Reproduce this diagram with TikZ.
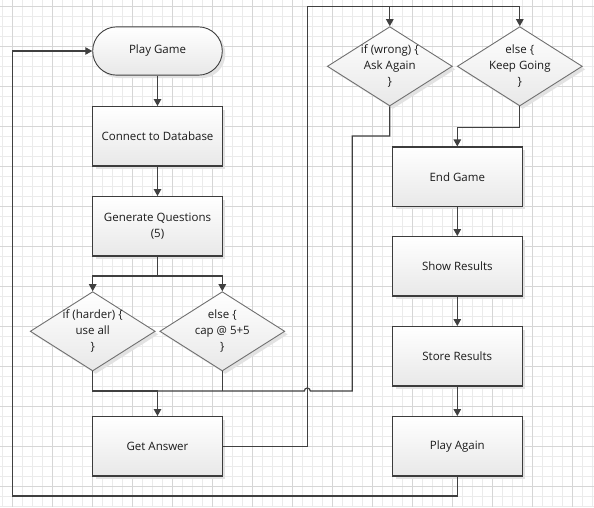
\documentclass[tikz,border=0pt]{standalone}
\usepackage{fontspec}
\setmainfont{Open Sans}
\usetikzlibrary{shapes.geometric,arrows.meta,shadows}
\definecolor{linec}{HTML}{404040}
\definecolor{boxc}{HTML}{3C3C3C}
\definecolor{diac}{HTML}{707070}
\definecolor{txtc}{HTML}{1A1A1A}
\definecolor{gminor}{HTML}{EBEBEB}
\definecolor{gmajor}{HTML}{D6D6D6}
\definecolor{shad}{HTML}{E2E2E2}
\begin{document}
\begin{tikzpicture}[x=1pt,y=-1pt,
  minor/.style={draw=gminor,line width=0.8pt},
  major/.style={draw=gmajor,line width=1pt},
  conn/.style={draw=linec,line width=1.2pt},
  arr/.style={conn,-{Triangle[length=7pt,width=7.5pt]}},
  shapebase/.style={top color=white,bottom color=black!9,text=txtc,
    font=\fontsize{11.5}{16}\selectfont,align=center,inner sep=0pt,
    drop shadow={shadow xshift=3pt,shadow yshift=-3pt,fill=shad,opacity=1}},
  box/.style={shapebase,rectangle,draw=boxc,line width=1.2pt,
    minimum width=129.6pt,minimum height=59.3pt},
  term/.style={shapebase,rectangle,rounded corners=24pt,draw=linec,line width=0.9pt,
    minimum width=129.6pt,minimum height=48.3pt},
  dia/.style={shapebase,diamond,draw=diac,line width=0.9pt,
    minimum width=125pt,minimum height=79.3pt},
  dtxt/.style={text=txtc,font=\fontsize{11.5}{16}\selectfont,align=center,inner sep=0pt}
]
\useasboundingbox (0,0) rectangle (594,507);
\fill[white] (0,0) rectangle (594,507);
% grid
\foreach \x in {2.7,12.7,...,593} \draw[minor] (\x,0) -- (\x,507);
\foreach \y in {6.7,16.7,...,507} \draw[minor] (0,\y) -- (594,\y);
\foreach \x in {12.7,52.7,...,593} \draw[major] (\x,0) -- (\x,507);
\foreach \y in {6.7,46.7,...,507} \draw[major] (0,\y) -- (594,\y);

% nodes
\node[term] (play) at (157.5,51) {Play Game};
\node[box] (connect) at (157.5,136.3) {Connect to Database};
\node[box] (gen) at (157.5,226.3) {Generate Questions\\(5)};
\node[dia] (hard) at (92.7,331.3) {};
\node[dtxt] (hardt) at (hard.center) {if (harder) \{\\use all\\\}};
\node[dia] (cap) at (222.3,331.3) {};
\node[dtxt] (capt) at (cap.center) {else \{\\cap @ 5+5\\\}};
\node[box] (get) at (157.5,446.3) {Get Answer};

\node[dia] (wrong) at (389.8,66.3) {};
\node[dtxt] (wrongt) at (wrong.center) {if (wrong) \{\\Ask Again\\\}};
\node[dia] (keep) at (519.8,66.3) {};
\node[dtxt] (keept) at (keep.center) {else \{\\Keep Going\\\}};
\node[box] (end) at (457.3,176.7) {End Game};
\node[box] (show) at (457.3,266.3) {Show Results};
\node[box] (store) at (457.3,356.3) {Store Results};
\node[box] (again) at (457.3,446.3) {Play Again};

% coordinates
\coordinate (split) at (157.5,276);
\coordinate (m) at (157.5,391);
\coordinate (tl) at (307.3,6.7);
\coordinate (hopR) at (310.3,391);

% connectors
\draw[arr] (play) -- (connect);
\draw[arr] (connect) -- (gen);
\draw[conn] (gen.south) -- (split);
\draw[arr] (split) -| (hard.north);
\draw[arr] (split) -| (cap.north);
\draw[conn] (hard.south) |- (m);
\draw[conn] (cap.south) -- (cap.south |- m);
\draw[conn] (wrong.south) |- (352.3,136) -- (352.3,391) -- (hopR) arc (0:-180:3) -- (m);
\draw[arr] (m) -- (get.north);
\draw[conn] (get.east) -| (tl);
\draw[arr] (tl) -| (wrong.north);
\draw[arr] (tl) -| (keep.north);
\draw[arr] (keep.south) -- ++(0,20.7) -| (end.north);
\draw[arr] (end) -- (show);
\draw[arr] (show) -- (store);
\draw[arr] (store) -- (again);
\draw[arr] (again.south) |- (12.3,496) |- (play.west);
\end{tikzpicture}
\end{document}
